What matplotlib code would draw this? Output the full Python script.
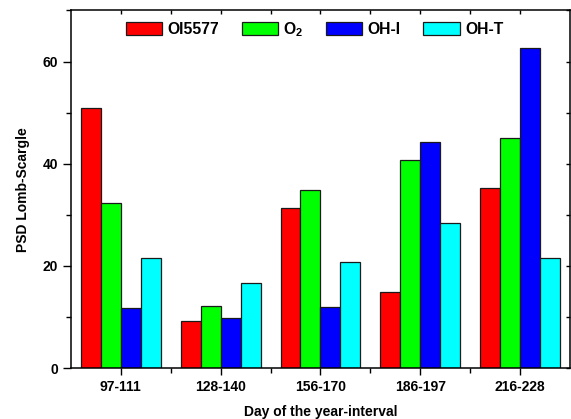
import numpy as np
import matplotlib
matplotlib.use("Agg")
import matplotlib.pyplot as plt
from matplotlib.ticker import MultipleLocator, FixedLocator

plt.rcParams["font.family"] = ["Liberation Sans", "DejaVu Sans"]
plt.rcParams["font.weight"] = "bold"
plt.rcParams["mathtext.fontset"] = "custom"
plt.rcParams["mathtext.rm"] = "Liberation Sans:bold"
plt.rcParams["mathtext.bf"] = "Liberation Sans:bold"
plt.rcParams["mathtext.default"] = "bf"

intervals = ["97-111", "128-140", "156-170", "186-197", "216-228"]
oi5577 = [51.0, 9.2, 31.4, 14.8, 35.3]
o2 = [32.4, 12.1, 34.8, 40.8, 45.1]
oh_i = [11.7, 9.7, 11.9, 44.3, 62.6]
oh_t = [21.6, 16.7, 20.8, 28.3, 21.6]

series = [
    ("OI5577", oi5577, "#ff0000"),
    ("O$_2$", o2, "#00ff00"),
    ("OH-I", oh_i, "#0000ff"),
    ("OH-T", oh_t, "#00ffff"),
]

fig = plt.figure(figsize=(5.71, 4.19), dpi=100)
ax = fig.add_axes([0.1243, 0.1217, 0.8737, 0.8533])

x = np.arange(len(intervals))
width = 0.2
for i, (label, vals, color) in enumerate(series):
    ax.bar(x + (i - 1.5) * width, vals, width, color=color,
           edgecolor="#1a1a1a", linewidth=0.9, label=label)

ax.set_xlim(-0.5, 4.5)
ax.set_ylim(0, 70)
ax.set_xticks(x)
ax.set_xticklabels(intervals)
ax.xaxis.set_minor_locator(FixedLocator(x[:-1] + 0.5))
ax.yaxis.set_major_locator(MultipleLocator(20))
ax.yaxis.set_minor_locator(MultipleLocator(10))

ax.tick_params(axis="both", which="major", labelsize=10, width=1.0, direction="out")
ax.tick_params(axis="y", which="major", length=6)
ax.tick_params(axis="y", which="minor", length=3.5, width=1.0, direction="out")
ax.tick_params(axis="x", which="major", length=5)
ax.tick_params(axis="x", which="minor", length=3.5, width=1.0, direction="out")
ax.tick_params(top=True, right=True, which="both")
ax.tick_params(axis="x", which="both", top=True, labeltop=False)
# mirrored ticks on top/right point into the plot
for t in ax.xaxis.get_major_ticks() + ax.xaxis.get_minor_ticks():
    t.tick2line.set_marker(matplotlib.markers.TICKDOWN)
    t.tick2line.set_markersize(3)
for t in ax.yaxis.get_major_ticks() + ax.yaxis.get_minor_ticks():
    t.tick2line.set_marker(matplotlib.markers.TICKLEFT)
    t.tick2line.set_markersize(3)

for s in ax.spines.values():
    s.set_linewidth(1.1)

ax.set_xlabel("Day of the year-interval", fontsize=10, fontweight="bold", labelpad=8)
ax.set_ylabel("PSD Lomb-Scargle", fontsize=10, fontweight="bold", labelpad=9)

ax.legend(loc="upper center", bbox_to_anchor=(0.488, 1.0), ncol=4, frameon=False,
          fontsize=11.3, handlelength=2.3, handleheight=0.85, handletextpad=0.35,
          columnspacing=1.45, borderaxespad=0.2)

fig.savefig("out.png", dpi=100)
